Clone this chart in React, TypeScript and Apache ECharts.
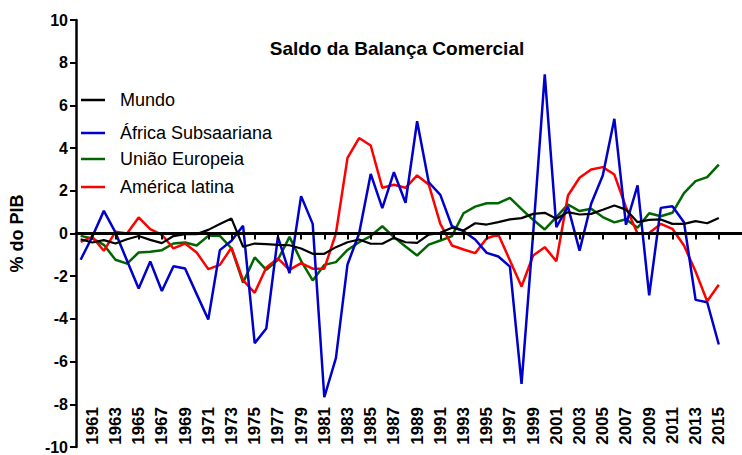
import React, { useEffect, useRef } from "react";
import * as echarts from "echarts";

const years: number[] = [
  1960, 1961, 1962, 1963, 1964, 1965, 1966, 1967, 1968, 1969,
  1970, 1971, 1972, 1973, 1974, 1975, 1976, 1977, 1978, 1979,
  1980, 1981, 1982, 1983, 1984, 1985, 1986, 1987, 1988, 1989,
  1990, 1991, 1992, 1993, 1994, 1995, 1996, 1997, 1998, 1999,
  2000, 2001, 2002, 2003, 2004, 2005, 2006, 2007, 2008, 2009,
  2010, 2011, 2012, 2013, 2014, 2015,
];

const tickYears: number[] = [
  1961, 1963, 1965, 1967, 1969, 1971, 1973, 1975, 1977, 1979,
  1981, 1983, 1985, 1987, 1989, 1991, 1993, 1995, 1997, 1999,
  2001, 2003, 2005, 2007, 2009, 2011, 2013, 2015,
];

const mundo: number[] = [
  -0.27, -0.42, -0.31, -0.47, -0.27, -0.12, -0.3, -0.45, -0.12, -0.03,
  -0.03, 0.17, 0.44, 0.7, -0.62, -0.47, -0.5, -0.53, -0.55, -0.7,
  -0.95, -0.95, -0.64, -0.41, -0.28, -0.48, -0.48, -0.2, -0.41, -0.44,
  -0.05, 0.03, 0.27, 0.14, 0.48, 0.42, 0.53, 0.66, 0.72, 0.92,
  0.97, 0.69, 1.0, 0.89, 0.92, 1.11, 1.31, 1.12, 0.53, 0.64,
  0.66, 0.45, 0.45, 0.58, 0.48, 0.73,
];

const africa: number[] = [
  -1.23, -0.15, 1.06, 0.05, -1.28, -2.58, -1.31, -2.69, -1.53, -1.64,
  -2.84, -4.03, -0.78, -0.34, 0.36, -5.14, -4.45, -0.16, -1.86, 1.75,
  0.45, -7.67, -5.84, -1.45, 0.0, 2.79, 1.19, 2.87, 1.44, 5.26,
  2.4, 1.81, 0.34, 0.11, -0.28, -0.91, -1.08, -1.55, -7.04, 0.0,
  7.45, 0.3, 1.26, -0.8, 1.39, 2.72, 5.37, 0.41, 2.25, -2.9,
  1.2, 1.28, 0.53, -3.11, -3.22, -5.2,
];

const uniaoEuropeia: number[] = [
  -0.11, -0.23, -0.53, -1.23, -1.41, -0.89, -0.86, -0.78, -0.47, -0.42,
  -0.56, -0.11, -0.11, -0.69, -2.3, -1.12, -1.7, -1.23, -0.16, -1.28,
  -2.2, -1.47, -1.34, -0.77, -0.41, -0.12, 0.34, -0.17, -0.61, -1.03,
  -0.52, -0.33, -0.12, 0.95, 1.26, 1.42, 1.42, 1.67, 1.14, 0.64,
  0.19, 0.77, 1.36, 1.05, 1.16, 0.77, 0.52, 0.67, 0.27, 0.95,
  0.81, 0.97, 1.89, 2.45, 2.64, 3.23,
];

const americaLatina: number[] = [
  -0.39, -0.16, -0.81, 0.08, 0.0, 0.75, 0.2, -0.06, -0.7, -0.47,
  -0.89, -1.67, -1.47, -0.66, -2.19, -2.78, -1.59, -1.17, -1.7, -1.39,
  -1.65, -1.65, 0.0, 3.54, 4.47, 4.12, 2.14, 2.28, 2.14, 2.72,
  2.3, 0.45, -0.56, -0.75, -0.92, -0.22, -0.05, -1.26, -2.48, -1.03,
  -0.64, -1.3, 1.78, 2.61, 3.0, 3.11, 2.76, 1.23, 0.0, 0.02,
  0.45, 0.22, -0.56, -1.78, -3.17, -2.4,
];

const seriesNames = ["Mundo", "África Subsaariana", "União Europeia", "América latina"];
const seriesColors = ["#000000", "#0000CC", "#006600", "#FF0000"];
const seriesData = [mundo, africa, uniaoEuropeia, americaLatina];
const legendRowsY = [100, 133, 159, 187];

const FONT = "'Liberation Sans', Arial, Helvetica, sans-serif";

export default function App() {
  const ref = useRef<HTMLDivElement>(null);

  useEffect(() => {
    if (!ref.current) return;
    const chart = echarts.init(ref.current, null, { renderer: "svg" });

    const pairs = (vals: number[]) => years.map((y, i) => [y, vals[i]]);
    const drawOrder = [2, 3, 1, 0];

    const series = drawOrder.map((idx) => ({
      name: seriesNames[idx],
      type: "line",
      xAxisIndex: 0,
      yAxisIndex: 0,
      data: pairs(seriesData[idx]),
      symbol: "none",
      lineStyle: { color: seriesColors[idx], width: idx === 0 ? 2.2 : 2.5 },
      itemStyle: { color: seriesColors[idx] },
      z: 3,
    }));

    const legendGraphics: any[] = [];
    seriesNames.forEach((name, i) => {
      legendGraphics.push({
        type: "line",
        shape: { x1: 81, y1: legendRowsY[i], x2: 105, y2: legendRowsY[i] },
        style: { stroke: seriesColors[i], lineWidth: 2.5 },
        z: 10,
      });
      legendGraphics.push({
        type: "text",
        x: 120,
        y: legendRowsY[i],
        style: {
          text: name,
          fill: "#000",
          font: `18px ${FONT}`,
          textAlign: "left",
          textVerticalAlign: "middle",
        },
        z: 10,
      });
    });

    chart.setOption({
      animation: false,
      backgroundColor: "#ffffff",
      textStyle: { fontFamily: FONT },
      title: {
        text: "Saldo da Balança Comercial",
        left: 397,
        top: 39,
        textAlign: "center",
        padding: 0,
        textStyle: { fontSize: 19, fontWeight: "bold", color: "#000", fontFamily: FONT },
      },
      grid: { left: 68, right: 0, top: 20, bottom: 8, containLabel: false },
      xAxis: [
        {
          type: "value",
          min: 1959.6,
          max: 2017,
          position: "bottom",
          axisLine: { show: true, onZero: true, lineStyle: { color: "#000", width: 3 } },
          axisTick: {
            show: true,
            customValues: tickYears,
            length: 6,
            inside: false,
            lineStyle: { color: "#000", width: 2 },
          },
          axisLabel: { show: false },
          splitLine: { show: false },
          z: 5,
        },
        {
          type: "value",
          min: 1959.6,
          max: 2017,
          position: "bottom",
          offset: -45,
          axisLine: { show: false, onZero: false },
          axisTick: { show: false },
          axisLabel: {
            show: true,
            customValues: tickYears,
            rotate: 90,
            margin: 5,
            fontSize: 17,
            fontWeight: "bold",
            color: "#000",
            fontFamily: FONT,
            formatter: (v: number) => String(v),
          },
          splitLine: { show: false },
        },
      ],
      yAxis: [
        {
          type: "value",
          min: -10,
          max: 10,
          interval: 2,
          name: "% do PIB",
          nameLocation: "middle",
          nameGap: 50,
          nameRotate: 90,
          nameTextStyle: { fontSize: 18, fontWeight: "bold", color: "#000", fontFamily: FONT },
          axisLine: { show: true, onZero: false, lineStyle: { color: "#000", width: 2.5 } },
          axisTick: { show: true, length: 6, lineStyle: { color: "#000", width: 2 } },
          axisLabel: {
            fontSize: 16,
            fontWeight: "bold",
            color: "#000",
            margin: 8,
            fontFamily: FONT,
          },
          splitLine: { show: false },
        },
      ],
      graphic: legendGraphics,
      series,
    });

    return () => chart.dispose();
  }, []);

  return <div ref={ref} style={{ width: 742, height: 455, position: "absolute", left: 0, top: 0 }} />;
}
